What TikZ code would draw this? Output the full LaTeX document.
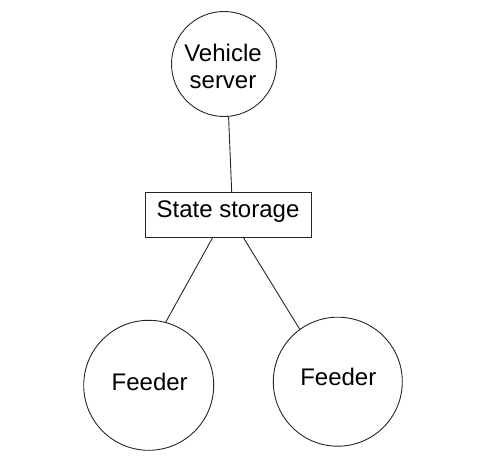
\documentclass[tikz,border=0pt]{standalone}
\usepackage{fontspec}
\setmainfont{Liberation Sans}
\begin{document}
\begin{tikzpicture}[x=1pt,y=-1pt,
  every node/.style={inner sep=0pt,outer sep=0pt},
  circ/.style={draw=black!85,line width=0.9pt,circle},
  box/.style={draw=black!85,line width=0.9pt,rectangle},
  lbl/.style={font=\fontsize{24}{27}\selectfont,align=center,anchor=center},
  conn/.style={draw=black!85,line width=0.9pt}]
\useasboundingbox (0,0) rectangle (500,462);
\node[circ,minimum size=105pt] (vs) at (224,64) {};
\node[lbl] at (223,66) {Vehicle\\server};
\node[box,minimum width=166pt,minimum height=45pt] (ss) at (228.5,215) {};
\node[lbl] at (228,212) {State storage};
\node[circ,minimum size=130pt] (f1) at (148.7,385.3) {};
\node[lbl] at (149.7,382) {Feeder};
\node[circ,minimum size=129pt] (f2) at (337.8,381.7) {};
\node[lbl] at (338.3,377) {Feeder};
\coordinate (sst) at (231.7,192.5);
\coordinate (ssl) at (212.7,237.5);
\coordinate (ssr) at (243.3,237.5);
\draw[conn] (vs.-85.4) -- (sst);
\draw[conn] (ssl) -- (f1.75.7);
\draw[conn] (ssr) -- (f2.126.2);
\end{tikzpicture}
\end{document}
